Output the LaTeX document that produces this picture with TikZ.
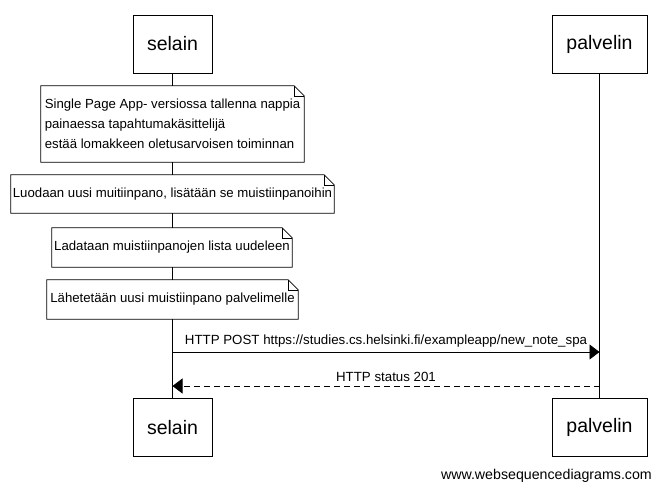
\documentclass[tikz,border=0pt]{standalone}
\usepackage{fontspec}
\setmainfont{Liberation Sans}
\usetikzlibrary{arrows.meta}
\tikzset{
  actor/.style={draw, fill=white, line width=0.9pt, minimum width=79pt, minimum height=58pt, inner sep=0pt, font=\fontsize{19.5}{22}\selectfont},
  actorR/.style={actor, minimum width=95pt},
  notebox/.style={fill=white, inner sep=0pt, align=left, font=\fontsize{13.2}{20}\selectfont},
  lifeline/.style={line width=0.9pt},
  msg/.style={line width=0.9pt, -{Triangle[length=10pt,width=15pt]}},
  lbl/.style={font=\fontsize{13.3}{15}\selectfont, inner sep=0pt}
}
\newcommand{\notedraw}[1]{%
  \draw[line width=0.8pt] (#1.north west) -- ([xshift=-10pt]#1.north east) -- ([yshift=-10pt]#1.north east) -- (#1.south east) -- (#1.south west) -- cycle;
  \draw[line width=0.6pt] ([xshift=-10pt]#1.north east) |- ([yshift=-10pt]#1.north east);
}
\begin{document}
\begin{tikzpicture}[x=1pt,y=-1pt]
\useasboundingbox[fill=white] (0,0) rectangle (661,491);
% actors
\node[actor] (s1) at (172.5,44) {selain};
\node[actorR] (p1) at (599.5,44) {palvelin};
\node[actor] (s2) at (172.5,427.5) {selain};
\node[actorR] (p2) at (599.5,427.5) {palvelin};
% lifelines
\draw[lifeline] (s1.south) -- (s2.north);
\draw[lifeline] (p1.south) -- (p2.north);
% notes
\node[notebox, minimum width=263pt, minimum height=76pt] (n1) at (172.5,124) {Single Page App- versiossa tallenna nappia\\painaessa tapahtumakäsittelijä\\estää lomakkeen oletusarvoisen toiminnan};
\notedraw{n1}
\node[notebox, minimum width=323pt, minimum height=38pt] (n2) at (172.5,194) {Luodaan uusi muitiinpano, lisätään se muistiinpanoihin};
\notedraw{n2}
\node[notebox, minimum width=240pt, minimum height=39pt] (n3) at (172,247.5) {Ladataan muistiinpanojen lista uudeleen};
\notedraw{n3}
\node[notebox, minimum width=251pt, minimum height=39pt] (n4) at (172.5,299.5) {Lähetetään uusi muistiinpano palvelimelle};
\notedraw{n4}
% messages
\coordinate (a1) at (172.5,352);
\coordinate (b1) at (599.5,352);
\draw[msg] (a1) -- (b1) node[lbl, midway, above=4pt] {HTTP POST https://studies.cs.helsinki.fi/exampleapp/new\_note\_spa};
\coordinate (a2) at (599.5,386);
\coordinate (b2) at (172.5,386);
\draw[msg, dashed, dash pattern=on 6pt off 4pt] (a2) -- (b2) node[lbl, midway, above=4pt] {HTTP status 201};
% watermark
\node[lbl, anchor=east, font=\fontsize{14.2}{16}\selectfont] (wm) at (652,476) {www.websequencediagrams.com};
\end{tikzpicture}
\end{document}
